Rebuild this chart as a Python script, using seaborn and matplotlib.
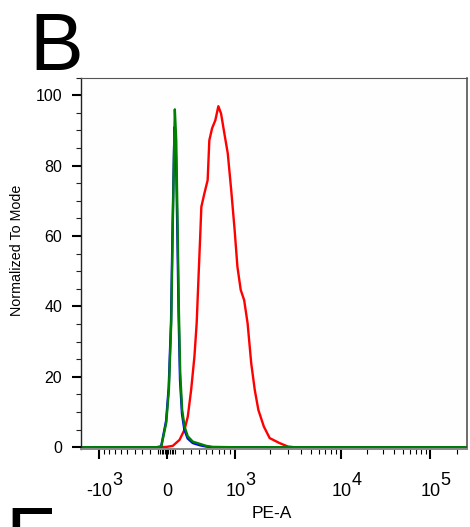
import numpy as np
import pandas as pd
import matplotlib
matplotlib.use("Agg")
import matplotlib.pyplot as plt
import seaborn as sns
from matplotlib.transforms import ScaledTranslation
from matplotlib.ticker import FixedLocator, NullFormatter

# ---------------- data ----------------
red_x = [-1433, -100, 0, 74, 155, 216, 257, 300, 343, 373, 400, 419, 437, 480, 528, 553,
         595, 647, 697, 743, 802, 864, 931, 1000, 1061, 1137, 1220, 1308, 1405, 1506,
         1615, 1792, 2000, 2498, 3019, 3500, 262144]
red_y = [0, 0, 0.1, 0.4, 2.1, 5.0, 8.7, 16.3, 25.8, 35.3, 49.4, 58.9, 68.3, 72.1, 75.9, 87.2,
         90.6, 92.9, 96.9, 94.8, 89.1, 83.5, 73.0, 61.7, 51.3, 44.7, 41.8, 35.2, 23.9, 16.3,
         10.6, 5.9, 2.6, 1.2, 0.2, 0, 0]

blue_x = [-1433, -120, -65, -6, 25, 53, 72, 89, 96, 113, 129, 144, 161, 185, 214, 255,
          320, 410, 504, 600, 1000, 262144]
blue_y = [0, 0, 0.2, 7.5, 17.0, 36.0, 64.0, 85.0, 91.0, 82.0, 60.0, 37.0, 19.0, 9.5, 5.0, 2.5,
          1.2, 0.6, 0.2, 0, 0, 0]

green_x = [-1433, -120, -63, -4, 27, 55, 74, 91, 98, 115, 131, 146, 163, 187, 216, 257,
           321, 410, 504, 600, 1000, 262144]
green_y = [0, 0, 0.2, 7.0, 16.3, 35.3, 63.7, 87.2, 96.0, 87.2, 63.7, 39.9, 21.1, 10.6, 5.9, 3.1,
           1.6, 1.0, 0.4, 0.1, 0, 0]

x_major = [-1000, 0, 1000, 10000, 100000]
x_tick_base = ["-10", "0", "10", "10", "10"]
x_tick_exp = ["3", "", "3", "4", "5"]
x_minor = ([-900, -800, -700, -600, -500, -400, -300, -200, -100, -80, -60, -40, -20,
            20, 40, 60, 80, 100, 200, 300, 400, 500, 600, 700, 800, 900]
           + [2000, 3000, 4000, 5000, 6000, 7000, 8000, 9000]
           + [20000, 30000, 40000, 50000, 60000, 70000, 80000, 90000, 200000])
y_major = [0, 20, 40, 60, 80, 100]
y_minor = [v for v in range(0, 106, 5) if v % 20 != 0]

# ---------------- biexponential-like display transform ----------------
W = 700.0
_anch_v = np.array([0, 1000, 2000, 5000, 1e4, 1e5, 1e6, 1e9])
_anch_u = np.arcsinh(_anch_v / W)
_anch_p = np.array([0, 68, 103, 144, 174, 263, 352, 352 + 89 * 3])


def fwd(x):
    x = np.asarray(x, dtype=float)
    u = np.arcsinh(x / W)
    return np.sign(u) * np.interp(np.abs(u), _anch_u, _anch_p)


def inv(p):
    p = np.asarray(p, dtype=float)
    u = np.sign(p) * np.interp(np.abs(p), _anch_p, _anch_u)
    return W * np.sinh(u)


# ---------------- figure ----------------
sns.set_theme(style="white")
plt.rcParams["font.family"] = ["Liberation Sans", "DejaVu Sans"]

fig = plt.figure(figsize=(4.7, 5.27), dpi=100)
L, R, T, B = 81, 467, 77.7, 449
ax = fig.add_axes([L / 470, 1 - B / 527, (R - L) / 470, (B - T) / 527])
ax.set_facecolor("#fefefe")

for xs, ys, col in [(red_x, red_y, "#ff0000"), (blue_x, blue_y, "#0000ff"),
                    (green_x, green_y, "#008000")]:
    df = pd.DataFrame({"x": xs, "y": ys})
    sns.lineplot(data=df, x="x", y="y", ax=ax, color=col, lw=1.7,
                 sort=False, estimator=None, legend=False)

ax.set_xscale("function", functions=(fwd, inv))
ax.set_xlim(-1433, 262144)
ax.set_ylim(-0.5, 105)
ax.set_xlabel("")
ax.set_ylabel("")

ax.xaxis.set_major_locator(FixedLocator(x_major))
ax.xaxis.set_major_formatter(NullFormatter())
ax.xaxis.set_minor_locator(FixedLocator(x_minor))
ax.xaxis.set_minor_formatter(NullFormatter())
ax.tick_params(axis="x", which="major", bottom=True, direction="out", length=7,
               width=1.5, color="black")
ax.tick_params(axis="x", which="minor", bottom=True, direction="out", length=3.8,
               width=0.8, color="black")

ax.yaxis.set_major_locator(FixedLocator(y_major))
ax.set_yticklabels([str(v) for v in y_major])
ax.yaxis.set_minor_locator(FixedLocator(y_minor))
ax.tick_params(axis="y", which="major", left=True, direction="out", length=6.5,
               width=1.5, color="black", labelsize=11.5, pad=7, labelcolor="black")
ax.tick_params(axis="y", which="minor", left=True, direction="out", length=3.5,
               width=0.8, color="#222222")

for side, col, lw in [("left", "#222222", 1.0), ("top", "#555555", 0.8),
                      ("right", "#444444", 1.1), ("bottom", "#888888", 1.4)]:
    ax.spines[side].set_visible(True)
    ax.spines[side].set_color(col)
    ax.spines[side].set_linewidth(lw)


def offset(dx_px, dy_px):
    return ax.get_xaxis_transform() + ScaledTranslation(dx_px / 100, dy_px / 100,
                                                         fig.dpi_scale_trans)


for v, base, ex in zip(x_major, x_tick_base, x_tick_exp):
    ax.text(v, 0, base, transform=offset(1, -47), ha="center", va="baseline",
            fontsize=13, color="black")
    if ex:
        sx = 14 if base.startswith("-") else 11
        ax.text(v, 0, ex, transform=offset(sx, -36), ha="left", va="baseline",
                fontsize=13, color="black")

fig.text(272 / 470, 1 - 514 / 527, "PE-A", ha="center", va="center", fontsize=12.5,
         color="black")
fig.text(17.5 / 470, 1 - 250 / 527, "Normalized To Mode", rotation=90, ha="center",
         va="center", fontsize=10.3, color="black")

fig.text(29 / 470, 1 - 70 / 527, "B", ha="left", va="baseline", fontsize=58,
         color="black")
fig.text(5.5 / 470, (527 - 564) / 527, "F", ha="left", va="baseline", fontsize=58,
         color="black")

fig.savefig("out.png", dpi=100)
